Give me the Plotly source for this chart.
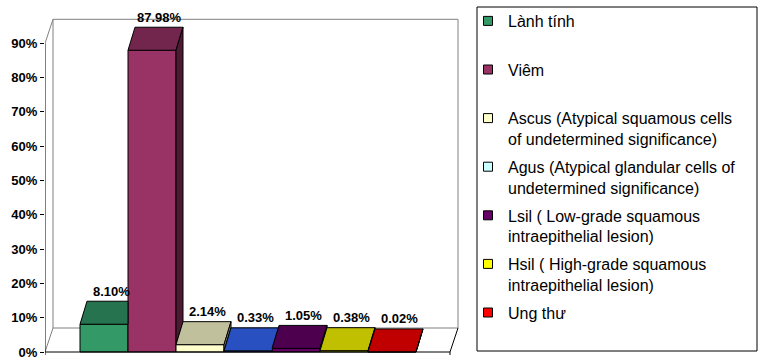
import plotly.graph_objects as go

# ---------------- data ----------------
categories = [
    "Lành tính",
    "Viêm",
    "Ascus (Atypical squamous cells<br>of undetermined significance)",
    "Agus (Atypical glandular cells of<br>undetermined significance)",
    "Lsil ( Low-grade squamous<br>intraepithelial lesion)",
    "Hsil ( High-grade squamous<br>intraepithelial lesion)",
    "Ung thư",
]
values = [8.10, 87.98, 2.14, 0.33, 1.05, 0.38, 0.02]
value_labels = ["8.10%", "87.98%", "2.14%", "0.33%", "1.05%", "0.38%", "0.02%"]
tick_values = [0, 10, 20, 30, 40, 50, 60, 70, 80, 90]
tick_labels = ["0%", "10%", "20%", "30%", "40%", "50%", "60%", "70%", "80%", "90%"]

# ---------------- styles ----------------
legend_colors = ["#339966", "#993366", "#FFFFCC", "#CCFFFF", "#660066", "#FFFF00", "#FF0000"]
front_colors = ["#339966", "#993366", "#FFFFCC", "#3366FF", "#660066", "#FFFF00", "#FF0000"]
top_colors = ["#267350", "#73264D", "#C0C09C", "#2850C0", "#4D004D", "#C0C000", "#C00000"]
side_colors = ["#1A4D33", "#4D1A33", "#80806A", "#1A3380", "#330033", "#808000", "#800000"]

PX_PER_UNIT_Y = 3.43   # pixels per 1 %
PX_PER_UNIT_X = 48.0   # pixels per bar slot
DX = 7 / PX_PER_UNIT_X    # depth offset (x) for bars
DY = 23 / PX_PER_UNIT_Y   # depth offset (y) for bars
WDX = 8 / PX_PER_UNIT_X   # depth offset for walls
WDY = 24 / PX_PER_UNIT_Y

L, R, T, B = 45, 302, 4, 8
W, H = 762, 364
plot_w = W - L - R
plot_h = H - T - B
x_min = -(104 - L) / PX_PER_UNIT_X
x_max = x_min + plot_w / PX_PER_UNIT_X
y_min = -(H - B - 352) / PX_PER_UNIT_Y
y_max = y_min + plot_h / PX_PER_UNIT_Y

font_family = "Arial, Liberation Sans, sans-serif"
n = len(values)
xs = list(range(n))

fig = go.Figure()

# front faces
fig.add_trace(go.Bar(
    x=xs, y=values, width=1, marker=dict(color=front_colors, line=dict(color="black", width=1)),
    showlegend=False, hoverinfo="skip",
))

# top and side faces (painter's order, left to right)
for i, v in enumerate(values):
    nxt = values[i + 1] if i + 1 < n else 0.0
    xl, xr = i - 0.5, i + 0.5
    if nxt >= v + DY:
        tx = [xl, xr, xr, xl + DX, xl]
        ty = [v, v, v + DY, v + DY, v]
    else:
        tx = [xl, xr, xr + DX, xl + DX, xl]
        ty = [v, v, v + DY, v + DY, v]
    fig.add_trace(go.Scatter(x=tx, y=ty, mode="lines", fill="toself", fillcolor=top_colors[i],
                             line=dict(color="black", width=1), showlegend=False, hoverinfo="skip"))
    if v > nxt:
        sx = [xr, xr, xr + DX, xr + DX, xr]
        sy = [nxt, v, v + DY, nxt + DY, nxt]
        fig.add_trace(go.Scatter(x=sx, y=sy, mode="lines", fill="toself", fillcolor=side_colors[i],
                                 line=dict(color="black", width=1), showlegend=False, hoverinfo="skip"))

# legend entries
for i, name in enumerate(categories):
    label = name if ("<br>" in name or i == n - 1) else name + "<br> "
    fig.add_trace(go.Scatter(
        x=[None], y=[None], mode="markers", name=label, legendgroup=f"g{i}",
        marker=dict(symbol="square", size=9, color=legend_colors[i], line=dict(color="black", width=1)),
    ))

# value labels
for i, v in enumerate(values):
    fig.add_annotation(x=i + DX, y=v + DY, text=value_labels[i], showarrow=False,
                       yanchor="middle", yshift=10, xanchor="center",
                       font=dict(family=font_family, size=13, color="black", weight="bold"))

# walls / floor frame
gray = "#808080"
xf0 = x_min
xf1 = x_min + (450 - L) / PX_PER_UNIT_X
xb0 = xf0 + WDX
xb1 = xf1 + WDX
top = tick_values[-1]
tick_len = 3 / PX_PER_UNIT_Y
shapes = [
    # back wall
    dict(type="line", x0=xb0, y0=WDY, x1=xb1, y1=WDY, line=dict(color=gray, width=1), layer="below"),
    dict(type="line", x0=xb0, y0=WDY + top, x1=xb1, y1=WDY + top, line=dict(color=gray, width=1), layer="below"),
    dict(type="line", x0=xb0, y0=WDY, x1=xb0, y1=WDY + top, line=dict(color=gray, width=1), layer="below"),
    dict(type="line", x0=xb1, y0=WDY, x1=xb1, y1=WDY + top, line=dict(color=gray, width=1), layer="below"),
    # left wall diagonals
    dict(type="line", x0=xf0, y0=top, x1=xb0, y1=WDY + top, line=dict(color=gray, width=1), layer="below"),
    dict(type="line", x0=xf0, y0=0, x1=xb0, y1=WDY, line=dict(color=gray, width=1), layer="below"),
    # floor
    dict(type="line", x0=xf1, y0=0, x1=xb1, y1=WDY, line=dict(color="black", width=1), layer="below"),
    dict(type="line", x0=xf0, y0=0, x1=xf1, y1=0, line=dict(color="black", width=1), layer="above"),
    dict(type="line", x0=xf0, y0=0, x1=xf0, y1=-tick_len, line=dict(color="black", width=1), layer="above"),
    dict(type="line", x0=xf1, y0=0, x1=xf1, y1=-tick_len, line=dict(color="black", width=1), layer="above"),
    # front value axis
    dict(type="line", x0=xf0, y0=0, x1=xf0, y1=top, line=dict(color="black", width=1), layer="above"),
    # legend box
    dict(type="rect", xref="paper", yref="paper",
         x0=(477 - L) / plot_w, x1=(757 - L) / plot_w,
         y0=(H - B - 351) / plot_h, y1=(H - B - 7) / plot_h,
         line=dict(color="black", width=1), fillcolor="rgba(0,0,0,0)"),
]

fig.update_layout(
    width=W, height=H,
    margin=dict(l=L, r=R, t=T, b=B),
    paper_bgcolor="white", plot_bgcolor="white",
    barmode="overlay",
    shapes=shapes,
    xaxis=dict(range=[x_min, x_max], visible=False, fixedrange=True),
    yaxis=dict(range=[y_min, y_max], tickvals=tick_values, ticktext=tick_labels,
               ticks="outside", ticklen=4, tickcolor="black", tickwidth=1,
               showline=False, showgrid=False, zeroline=False,
               tickfont=dict(family=font_family, size=13, color="black", weight="bold")),
    showlegend=True,
    legend=dict(x=(468 - L) / plot_w, xanchor="left", y=1, yanchor="top",
                bgcolor="rgba(0,0,0,0)", borderwidth=0, tracegroupgap=4, valign="top",
                font=dict(family=font_family, size=16, color="black")),
    font=dict(family=font_family),
)

fig.write_html("out.html")
